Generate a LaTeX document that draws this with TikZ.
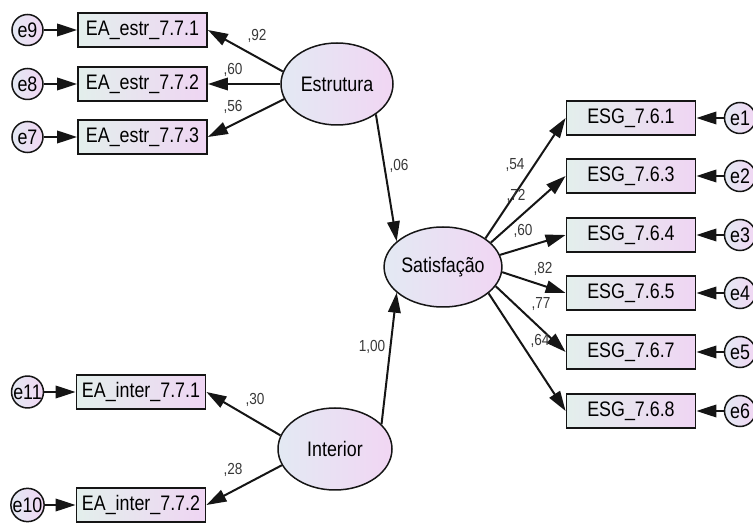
\documentclass[tikz,border=0pt]{standalone}
\usepackage{fontspec}
\setmainfont{Liberation Sans}[FakeStretch=0.85]
\usetikzlibrary{shapes.geometric,arrows.meta}
\definecolor{boxL}{HTML}{E3EFEC}
\definecolor{boxR}{HTML}{EFD5F3}
\definecolor{ellL}{HTML}{E3E9F3}
\definecolor{ellR}{HTML}{F1D6F3}
\definecolor{ink}{HTML}{151515}
\begin{document}
\begin{tikzpicture}[x=1pt,y=-1pt,
  obs/.style={draw=ink, line width=1.8pt, left color=boxL, right color=boxR,
    minimum width=129pt, minimum height=34pt, inner sep=0pt,
    font=\fontsize{21}{24}\selectfont},
  lat/.style={ellipse, draw=ink, line width=1.5pt, left color=ellL, right color=ellR,
    inner sep=0pt, font=\fontsize{21}{24}\selectfont},
  err/.style={circle, draw=ink, line width=1.5pt, left color=ellL, right color=ellR,
    minimum size=31pt, inner sep=0pt, font=\fontsize{21}{24}\selectfont},
  reg/.style={draw=ink, line width=2pt, -{Triangle[length=20pt,width=12.5pt]}},
  coef/.style={font=\fontsize{16}{18}\selectfont, text=ink!85, inner sep=0pt}
]
\useasboundingbox (0,0) rectangle (753,526);

% latent variables
\node[lat, minimum width=112pt, minimum height=82pt] (estr) at (337,84) {Estrutura};
\node[lat, minimum width=110pt, minimum height=80pt] (sat) at (443,267) {Satisfação};
\node[lat, minimum width=114pt, minimum height=82pt] (int) at (335,449) {Interior};

% indicators of Estrutura and Interior
\node[obs] (ea1) at (142.5,30) {EA\_estr\_7.7.1};
\node[obs] (ea2) at (142.5,84) {EA\_estr\_7.7.2};
\node[obs] (ea3) at (142.5,137) {EA\_estr\_7.7.3};
\node[obs] (ia1) at (141,392) {EA\_inter\_7.7.1};
\node[obs] (ia2) at (141,505) {EA\_inter\_7.7.2};

\node[err] (e9) at (27.5,30) {e9};
\node[err] (e8) at (27.5,84) {e8};
\node[err] (e7) at (27.5,137) {e7};
\node[err] (e11) at (27.5,392) {e11};
\node[err] (e10) at (27.5,505) {e10};

% indicators of Satisfação
\node[obs] (g1) at (631,118) {ESG\_7.6.1};
\node[obs] (g3) at (631,176) {ESG\_7.6.3};
\node[obs] (g4) at (631,235) {ESG\_7.6.4};
\node[obs] (g5) at (631,293) {ESG\_7.6.5};
\node[obs] (g7) at (631,352) {ESG\_7.6.7};
\node[obs] (g8) at (631,411) {ESG\_7.6.8};

\node[err] (e1) at (740,118) {e1};
\node[err] (e2) at (740,176) {e2};
\node[err] (e3) at (740,235) {e3};
\node[err] (e4) at (740,293) {e4};
\node[err] (e5) at (740,352) {e5};
\node[err] (e6) at (740,411) {e6};

% error terms
\foreach \e/\v in {e9/ea1, e8/ea2, e7/ea3, e11/ia1, e10/ia2,
                   e1/g1, e2/g3, e3/g4, e4/g5, e5/g7, e6/g8}
  \draw[reg] (\e) -- (\v);

% loadings
\draw[reg] (estr.167) -- (ea1.east);
\draw[reg] (estr.180) -- (ea2.east);
\draw[reg] (estr.196) -- (ea3.east);
\draw[reg] (int.166) -- (ia1.east);
\draw[reg] (int.197) -- (ia2.east);
\draw[reg] (sat.34) -- (g1.west);
\draw[reg] (sat.27) -- (g3.west);
\draw[reg] (sat.12) -- (g4.west);
\draw[reg] (sat.-5) -- (g5.west);
\draw[reg] (sat.-20) -- (g7.west);
\draw[reg] (sat.-30) -- (g8.west);

% structural paths
\draw[reg] (estr.-38) -- (sat.151);
\draw[reg] (int.28) -- (sat.209);

% coefficients
\node[coef] (c92) at (257,36) {,92};
\node[coef] (c60a) at (233,70) {,60};
\node[coef] (c56) at (233,107) {,56};
\node[coef] (c06) at (399,166) {,06};
\node[coef] (c54) at (515,165) {,54};
\node[coef] (c72) at (516,196) {,72};
\node[coef] (c60b) at (523,231) {,60};
\node[coef] (c82) at (543,269) {,82};
\node[coef] (c77) at (541,304) {,77};
\node[coef] (c64) at (540,341) {,64};
\node[coef] (c100) at (372,347) {1,00};
\node[coef] (c30) at (255,400) {,30};
\node[coef] (c28) at (233,470) {,28};
\end{tikzpicture}
\end{document}
